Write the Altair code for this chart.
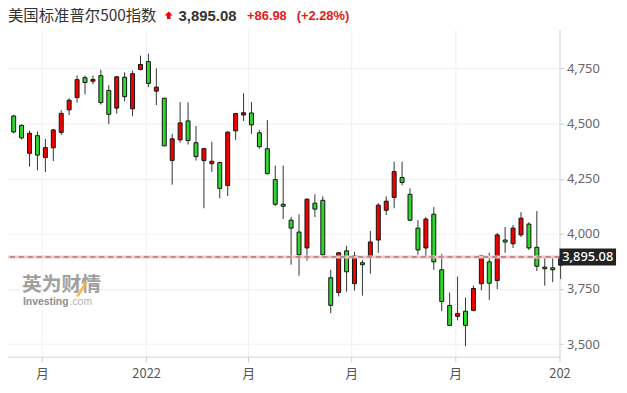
import altair as alt
import pandas as pd
import numpy as np

# ---- data (weekly candles, S&P 500) ----
week_start = "2021-09-06"
opens = [4534, 4492, 4365, 4445, 4346, 4390, 4460, 4562, 4618, 4708,
         4692, 4717, 4650, 4570, 4710, 4567, 4745, 4781, 4647, 4615,
         4333, 4426, 4512, 4413, 4332, 4318, 4323, 4219, 4467, 4539,
         4548, 4458, 4386, 4246, 4134, 4062, 4008, 3936, 4139, 4152,
         3801, 3734, 3923, 3774, 3869, 3896, 3972, 4107, 4165, 4255,
         4179, 4026, 3936, 4089, 3837, 3675, 3626, 3649, 3653, 3774,
         3873, 3788, 3972, 3955, 3995, 4044, 3939, 3849, 3846, 3858]
highs = [4540, 4496, 4468, 4464, 4430, 4476, 4560, 4614, 4718, 4718,
         4717, 4744, 4674, 4714, 4732, 4741, 4808, 4817, 4750, 4616,
         4453, 4597, 4596, 4489, 4390, 4417, 4327, 4465, 4548, 4637,
         4597, 4471, 4516, 4309, 4309, 4077, 4089, 4160, 4179, 4170,
         3837, 3916, 3945, 3918, 3882, 4013, 4139, 4170, 4327, 4327,
         4206, 4062, 4076, 4121, 3909, 3734, 3806, 3711, 3765, 3905,
         3914, 4004, 4031, 4040, 4098, 4053, 4103, 3890, 3890, 3905]
lows = [4455, 4428, 4305, 4288, 4280, 4330, 4448, 4538, 4595, 4632,
        4678, 4586, 4497, 4545, 4600, 4533, 4740, 4665, 4584, 4397,
        4223, 4413, 4405, 4332, 4116, 4281, 4161, 4171, 4426, 4512,
        4453, 4386, 4269, 4126, 4067, 3860, 3810, 3879, 4076, 3902,
        3640, 3716, 3738, 3743, 3720, 3819, 3914, 4085, 4116, 4220,
        4058, 3905, 3891, 3837, 3649, 3583, 3608, 3491, 3649, 3744,
        3701, 3749, 3914, 3936, 3986, 3927, 3831, 3765, 3781, 3796]
closes = [4462, 4435, 4456, 4357, 4391, 4471, 4546, 4606, 4699, 4686,
          4700, 4595, 4542, 4712, 4622, 4726, 4768, 4682, 4665, 4399,
          4431, 4503, 4423, 4350, 4386, 4329, 4206, 4461, 4545, 4549,
          4494, 4395, 4273, 4134, 4125, 4026, 3905, 4157, 4112, 3905,
          3676, 3914, 3828, 3900, 3860, 3963, 4130, 4148, 4282, 4233,
          4062, 3927, 4067, 3873, 3693, 3585, 3639, 3585, 3752, 3900,
          3776, 3995, 3963, 4026, 4071, 3936, 3853, 3842, 3837, 3895.08]

last_price = 3895.08
title_name = "美国标准普尔500指数"
title_price = "3,895.08"
title_change = "+86.98"
title_pct = "(+2.28%)"
y_ticks = [3500, 3750, 4000, 4250, 4500, 4750]

dates = pd.date_range(week_start, periods=len(opens), freq="7D")
df = pd.DataFrame({
    "date": dates.strftime("%Y-%m-%d"),
    "open": opens, "high": highs, "low": lows, "close": closes,
})
df["dir"] = np.where(df["close"] >= df["open"], "up", "down")

RED = "#f20000"
GREEN = "#2ed62e"

xscale = alt.Scale(type="utc", padding=0,
                   domain=[alt.DateTime(year=2021, month=9, day=4, utc=True),
                           alt.DateTime(year=2023, month=1, day=5, utc=True)])
yscale = alt.Scale(domain=[3443, 4927], nice=False, zero=False, padding=0)

x_vals = [alt.DateTime(year=2021, month=10, day=1, utc=True),
          alt.DateTime(year=2022, month=1, day=1, utc=True),
          alt.DateTime(year=2022, month=4, day=1, utc=True),
          alt.DateTime(year=2022, month=7, day=1, utc=True),
          alt.DateTime(year=2022, month=10, day=1, utc=True),
          alt.DateTime(year=2023, month=1, day=1, utc=True)]

xaxis = alt.Axis(values=x_vals, title=None, grid=True, gridColor="#eef0f3",
                 labelExpr="utcmonth(datum.value) == 0 ? (utcyear(datum.value) == 2022 ? '2022' : '202') : '月'",
                 labelColor="#555555", labelFontSize=13, labelFont="Noto Sans CJK SC",
                 tickColor="#cccccc", tickSize=5, domainColor="#d5d8de",
                 labelPadding=6, labelFlush=False)
yaxis = alt.Axis(orient="right", values=y_ticks, format=",.0f", title=None,
                 grid=True, gridColor="#eef0f3", domainColor="#d5d8de",
                 tickColor="#cccccc", tickSize=4, labelColor="#666666",
                 labelFontSize=13, labelFont="Noto Sans", labelPadding=3)

base = alt.Chart(df)

wicks = base.mark_rule(color="#333333", strokeWidth=1).encode(
    x=alt.X("date:T", scale=xscale, axis=xaxis),
    y=alt.Y("low:Q", scale=yscale, axis=yaxis),
    y2="high:Q",
)

bodies = base.mark_bar(size=4, stroke="#111111", strokeWidth=1).encode(
    x=alt.X("date:T", scale=xscale, axis=xaxis),
    y=alt.Y("open:Q", scale=yscale, axis=yaxis),
    y2="close:Q",
    color=alt.Color("dir:N", scale=alt.Scale(domain=["up", "down"], range=[RED, GREEN]), legend=None),
)

pink_line = alt.Chart().mark_rule(color="#f7c4c4", strokeWidth=3).encode(y=alt.datum(last_price))
dash_line = alt.Chart().mark_rule(color="#7a5656", strokeWidth=1, strokeDash=[5, 4]).encode(y=alt.datum(last_price))

price_box = alt.Chart().mark_point(shape="M-1,-0.3L1,-0.3L1,0.3L-1,0.3Z", filled=True,
                                   size=3249, color="#222222", opacity=1).encode(
    x=alt.value(584.5), y=alt.datum(last_price))
price_text = alt.Chart().mark_text(text=title_price, color="white", fontSize=13, fontWeight=500,
                                   font="Noto Sans", align="center", baseline="middle").encode(
    x=alt.value(584.5), y=alt.datum(last_price))

t_name = alt.Chart().mark_text(text=title_name, color="#333333", fontSize=15.5,
                               font="Noto Sans CJK SC", align="left", baseline="middle").encode(
    x=alt.value(0), y=alt.value(-13))
t_arrow = alt.Chart().mark_point(shape="M-1,0L0,-1L1,0L0.45,0L0.45,0.9L-0.45,0.9L-0.45,0Z",
                                 filled=True, size=64, color=RED, opacity=1).encode(
    x=alt.value(162), y=alt.value(-14))
t_price = alt.Chart().mark_text(text=title_price, color="#333333", fontSize=15, fontWeight="bold",
                                font="Liberation Sans", align="left", baseline="middle").encode(
    x=alt.value(172), y=alt.value(-13.5))
t_change = alt.Chart().mark_text(text=title_change, color="#e41b1b", fontSize=13, fontWeight="bold",
                                 font="Liberation Sans", align="left", baseline="middle").encode(
    x=alt.value(241), y=alt.value(-13.5))
t_pct = alt.Chart().mark_text(text=title_pct, color="#e41b1b", fontSize=13, fontWeight="bold",
                              font="Liberation Sans", align="left", baseline="middle").encode(
    x=alt.value(291), y=alt.value(-13.5))

wm1 = alt.Chart().mark_text(text="英为财情", color="#a0a0a0", fontSize=20, fontWeight="bold",
                            font="Noto Sans CJK SC", align="left", baseline="middle").encode(
    x=alt.value(14), y=alt.value(258))
wm_slash = alt.Chart().mark_rule(color="#f5b335", strokeWidth=3, opacity=0.85).encode(
    x=alt.value(70), x2=alt.value(79), y=alt.value(269), y2=alt.value(255))
wm2 = alt.Chart().mark_text(text="Investing", color="#8e8e8e", fontSize=10.5, fontWeight="bold",
                            font="Liberation Sans", align="left", baseline="middle").encode(
    x=alt.value(15), y=alt.value(275))
wm3 = alt.Chart().mark_text(text=".com", color="#b0b0b0", fontSize=10.5,
                            font="Liberation Sans", align="left", baseline="middle").encode(
    x=alt.value(62), y=alt.value(275))

chart = alt.layer(
    wicks, bodies, pink_line, dash_line, price_box, price_text,
    t_name, t_arrow, t_price, t_change, t_pct, wm1, wm_slash, wm2, wm3
).properties(
    width=556, height=330,
    padding={"left": 0, "top": 20, "right": 60, "bottom": 27},
    autosize=alt.AutoSizeParams(type="none"),
).configure_view(stroke=None)

chart.save("out.html", embed_options={"renderer": "svg", "actions": False})
